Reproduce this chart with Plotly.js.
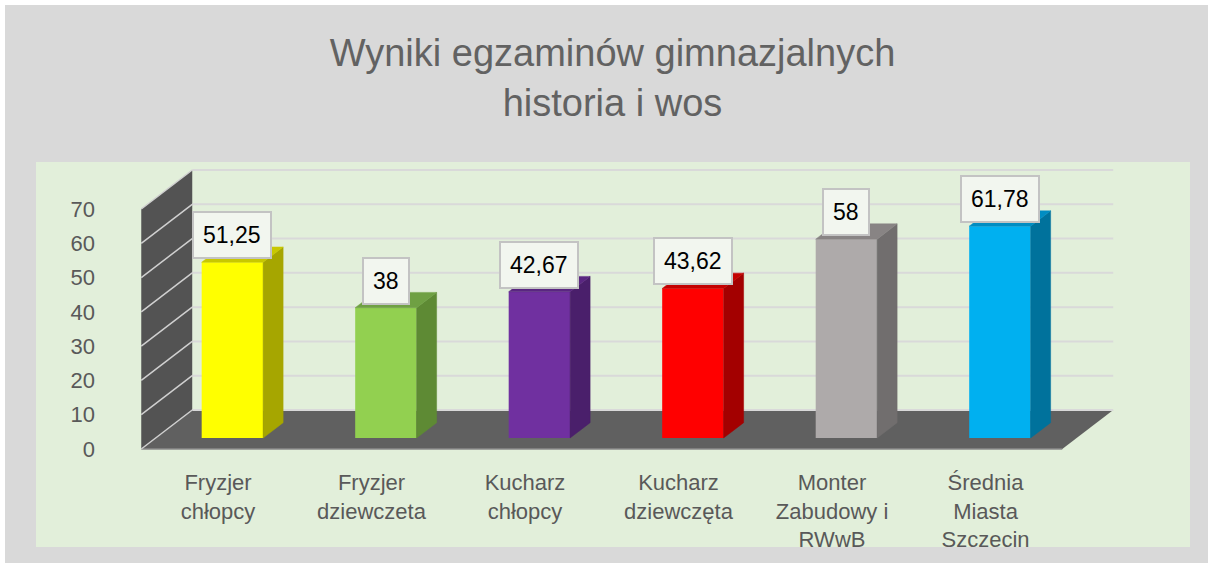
<!DOCTYPE html>
<html>
<head>
<meta charset="utf-8">
<script src="https://cdn.plot.ly/plotly-3.0.1.min.js"></script>
<style>
  html, body { margin: 0; padding: 0; background: #ffffff; }
  #chart { position: absolute; left: 5px; top: 5px; width: 1203px; height: 558px; }
</style>
</head>
<body>
<div id="chart"></div>
<script>
// ---- data ----
const categories = ['Fryzjer chłopcy', 'Fryzjer dziewczeta', 'Kucharz chłopcy', 'Kucharz dziewczęta', 'Monter Zabudowy i RWwB', 'Średnia Miasta Szczecin'];
const tickLabels = ['Fryzjer<br>chłopcy', 'Fryzjer<br>dziewczeta', 'Kucharz<br>chłopcy', 'Kucharz<br>dziewczęta', 'Monter<br>Zabudowy i<br>RWwB', 'Średnia<br>Miasta<br>Szczecin'];
const values = [51.25, 38, 42.67, 43.62, 58, 61.78];
const yTicks = [0, 10, 20, 30, 40, 50, 60, 70];
const frontColors = ['#FFFF00', '#92D050', '#7030A0', '#FF0000', '#AEAAAA', '#00B0F0'];
const sideColors  = ['#A6A600', '#5E8A34', '#4A1F6B', '#A30000', '#716E6E', '#00729C'];
const topColors   = ['#C8C800', '#6FA043', '#5A2681', '#C40000', '#888484', '#008DC2'];

// ---- 3D projection (depth offsets in axis units) ----
const DX = 0.332, DY = 11.375;     // full floor depth
const T1 = 0.282, T2 = 0.675;      // bar front / back depth fractions
const BW = 0.4;                    // bar width
const xIdx = categories.map((c, i) => i);
const X0 = -0.5, X1 = categories.length - 0.5;
const YMAX = yTicks[yTicks.length - 1];
const FONT = 'Liberation Sans Narrow, Arial Narrow, sans-serif';

const traces = [];
// front faces
traces.push({
  type: 'bar',
  x: xIdx.map(i => i + T1 * DX),
  y: values,
  base: T1 * DY,
  width: BW,
  marker: { color: frontColors, line: { width: 0 } },
  hoverinfo: 'skip',
  name: 'wynik'
});
// side and top faces
const bdx = (T2 - T1) * DX, bdy = (T2 - T1) * DY;
values.forEach((v, i) => {
  const xl = i + T1 * DX - BW / 2, xr = i + T1 * DX + BW / 2, b = T1 * DY;
  traces.push({
    type: 'scatter', mode: 'lines', fill: 'toself', fillcolor: sideColors[i],
    x: [xr, xr + bdx, xr + bdx, xr, xr],
    y: [b, b + bdy, b + v + bdy, b + v, b],
    line: { width: 0.5, color: sideColors[i] }, hoverinfo: 'skip'
  });
  traces.push({
    type: 'scatter', mode: 'lines', fill: 'toself', fillcolor: topColors[i],
    x: [xl, xr, xr + bdx, xl + bdx, xl],
    y: [b + v, b + v, b + v + bdy, b + v + bdy, b + v],
    line: { width: 0.5, color: topColors[i] }, hoverinfo: 'skip'
  });
});

// ---- decorations: back gridlines, floor, side wall ----
const shapes = [];
shapes.push({ type: 'path', layer: 'below', xref: 'x', yref: 'y',
  path: `M${X0},0 L${X1},0 L${X1 + DX},${DY} L${X0 + DX},${DY} Z`,
  fillcolor: '#606060', line: { width: 0 } });
shapes.push({ type: 'line', layer: 'below', xref: 'x', yref: 'y',
  x0: X0, y0: 0, x1: X1, y1: 0, line: { color: '#8A8A8A', width: 1.5 } });
shapes.push({ type: 'path', layer: 'below', xref: 'x', yref: 'y',
  path: `M${X0},0 L${X0},${YMAX} L${X0 + DX},${YMAX + DY} L${X0 + DX},${DY} Z`,
  fillcolor: '#535353', line: { width: 0 } });
yTicks.forEach(v => {
  shapes.push({ type: 'line', layer: 'below', xref: 'x', yref: 'y',
    x0: X0 + DX, y0: v + DY, x1: X1 + DX, y1: v + DY,
    line: { color: '#D9D9D9', width: 2 } });
  shapes.push({ type: 'line', layer: 'below', xref: 'x', yref: 'y',
    x0: X0, y0: v, x1: X0 + DX, y1: v + DY,
    line: { color: '#D0D0D0', width: 1.5 } });
});

// ---- value labels ----
const annotations = values.map((v, i) => ({
  x: i + T1 * DX, y: v + T1 * DY, xref: 'x', yref: 'y',
  yanchor: 'bottom', yshift: 3, showarrow: false,
  text: String(v).replace('.', ','),
  font: { family: FONT, size: 23, color: '#000000' },
  bgcolor: '#F2F6EF', bordercolor: '#C3C3C3', borderwidth: 2, borderpad: 9
}));

const layout = {
  width: 1203, height: 558,
  margin: { l: 31, r: 18, t: 157, b: 16 },
  paper_bgcolor: '#D9D9D9',
  plot_bgcolor: '#E2EFDA',
  showlegend: false,
  title: {
    text: 'Wyniki egzaminów gimnazjalnych<br>historia i wos',
    font: { family: FONT, size: 38, color: '#626262' },
    x: 0.505, xanchor: 'center', xref: 'container',
    y: 0.89, yanchor: 'top', yref: 'container'
  },
  xaxis: {
    range: [-1.1857, 6.332], anchor: 'free', position: 0.208,
    tickvals: xIdx, ticktext: tickLabels, ticks: '',
    showgrid: false, zeroline: false, showline: false,
    tickfont: { family: FONT, size: 22, color: '#595959' },
    fixedrange: true
  },
  yaxis: {
    range: [-28.58, 83.71], anchor: 'free', position: 0.0511,
    tickvals: yTicks, ticks: '',
    showgrid: false, zeroline: false, showline: false,
    tickfont: { family: FONT, size: 22, color: '#595959' },
    fixedrange: true
  },
  shapes: shapes,
  annotations: annotations
};

Plotly.newPlot('chart', traces, layout, { displayModeBar: false, staticPlot: true });
</script>
</body>
</html>
